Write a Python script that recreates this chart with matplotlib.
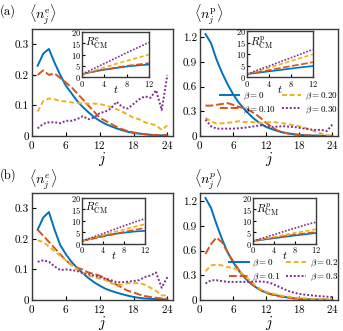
import numpy as np
import matplotlib
matplotlib.use("Agg")
import matplotlib.pyplot as plt

plt.rcParams["font.family"] = "cmr10"
plt.rcParams["mathtext.fontset"] = "cm"
plt.rcParams["axes.formatter.use_mathtext"] = True

# site index j and inset time t
j = np.arange(1, 25)
t = [0, 2, 4, 6, 8, 10, 12]
betas_a = ["0", "0.10", "0.20", "0.30"]
betas_b = ["0", "0.1", "0.2", "0.3"]

# (a) electrons
ae_b0 = [0.23, 0.27, 0.285, 0.24, 0.20, 0.165, 0.14, 0.115, 0.095, 0.078, 0.062, 0.05,
         0.04, 0.032, 0.025, 0.019, 0.014, 0.010, 0.008, 0.006, 0.004, 0.003, 0.002, 0.002]
ae_b1 = [0.20, 0.215, 0.20, 0.205, 0.19, 0.175, 0.16, 0.14, 0.12, 0.10, 0.08, 0.06,
         0.05, 0.04, 0.03, 0.022, 0.016, 0.012, 0.008, 0.006, 0.004, 0.003, 0.002, 0.004]
ae_b2 = [0.08, 0.115, 0.123, 0.12, 0.115, 0.113, 0.11, 0.108, 0.107, 0.106, 0.106, 0.105,
         0.10, 0.095, 0.088, 0.08, 0.07, 0.06, 0.055, 0.045, 0.04, 0.035, 0.02, 0.035]
ae_b3 = [0.025, 0.04, 0.045, 0.045, 0.042, 0.05, 0.05, 0.055, 0.065, 0.055, 0.06, 0.075,
         0.08, 0.09, 0.112, 0.095, 0.09, 0.105, 0.12, 0.13, 0.125, 0.15, 0.085, 0.20]
# (a) protons
ap_b0 = [1.24, 1.13, 0.93, 0.77, 0.63, 0.51, 0.41, 0.33, 0.26, 0.20, 0.15, 0.11,
         0.085, 0.062, 0.045, 0.032, 0.022, 0.015, 0.010, 0.007, 0.005, 0.003, 0.002, 0.001]
ap_b1 = [0.37, 0.37, 0.38, 0.39, 0.40, 0.38, 0.355, 0.34, 0.31, 0.27, 0.22, 0.16,
         0.11, 0.07, 0.045, 0.03, 0.02, 0.013, 0.009, 0.006, 0.004, 0.003, 0.002, 0.002]
ap_b2 = [0.22, 0.18, 0.15, 0.155, 0.16, 0.17, 0.18, 0.17, 0.175, 0.165, 0.155, 0.165,
         0.17, 0.165, 0.155, 0.145, 0.13, 0.12, 0.10, 0.08, 0.05, 0.03, 0.01, 0.005]
ap_b3 = [0.20, 0.12, 0.09, 0.09, 0.09, 0.09, 0.095, 0.10, 0.11, 0.12, 0.13, 0.12,
         0.11, 0.115, 0.12, 0.115, 0.11, 0.10, 0.09, 0.08, 0.075, 0.075, 0.06, 0.14]
# (b) electrons
be_b0 = [0.23, 0.27, 0.288, 0.23, 0.18, 0.15, 0.125, 0.105, 0.088, 0.072, 0.058, 0.047,
         0.037, 0.03, 0.024, 0.019, 0.014, 0.010, 0.007, 0.005, 0.004, 0.003, 0.002, 0.002]
be_b1 = [0.23, 0.21, 0.19, 0.17, 0.15, 0.13, 0.115, 0.105, 0.10, 0.09, 0.085, 0.08,
         0.07, 0.06, 0.05, 0.04, 0.03, 0.025, 0.018, 0.013, 0.01, 0.007, 0.005, 0.004]
be_b2 = [0.195, 0.19, 0.175, 0.16, 0.145, 0.13, 0.115, 0.10, 0.09, 0.08, 0.075, 0.07,
         0.065, 0.055, 0.05, 0.05, 0.055, 0.055, 0.055, 0.05, 0.04, 0.03, 0.015, 0.015]
be_b3 = [0.125, 0.13, 0.125, 0.11, 0.098, 0.10, 0.098, 0.095, 0.088, 0.085, 0.08, 0.075,
         0.07, 0.065, 0.058, 0.058, 0.06, 0.062, 0.065, 0.075, 0.08, 0.09, 0.04, 0.075]
# (b) protons
bp_b0 = [1.24, 1.12, 0.92, 0.74, 0.58, 0.46, 0.36, 0.28, 0.21, 0.16, 0.12, 0.09,
         0.07, 0.055, 0.04, 0.03, 0.02, 0.015, 0.010, 0.007, 0.005, 0.003, 0.002, 0.001]
bp_b1 = [0.56, 0.68, 0.76, 0.70, 0.58, 0.47, 0.37, 0.29, 0.22, 0.16, 0.12, 0.085,
         0.065, 0.05, 0.038, 0.028, 0.02, 0.015, 0.010, 0.007, 0.005, 0.004, 0.003, 0.002]
bp_b2 = [0.35, 0.42, 0.43, 0.42, 0.40, 0.39, 0.36, 0.30, 0.24, 0.18, 0.13, 0.10,
         0.08, 0.065, 0.05, 0.04, 0.03, 0.025, 0.02, 0.015, 0.01, 0.008, 0.006, 0.004]
bp_b3 = [0.20, 0.24, 0.24, 0.23, 0.22, 0.22, 0.22, 0.22, 0.22, 0.225, 0.225, 0.22,
         0.20, 0.17, 0.14, 0.11, 0.09, 0.075, 0.065, 0.058, 0.05, 0.045, 0.04, 0.035]

# insets: R_CM(t)
r_ae = [[1.3, 2.4, 3.3, 4.0, 4.7, 5.2, 5.6], [1.3, 2.4, 3.4, 4.2, 5.0, 5.6, 6.2],
        [1.3, 2.8, 4.3, 5.8, 7.2, 8.6, 10.0], [1.3, 3.7, 6.0, 8.4, 10.8, 13.1, 15.4]]
r_ap = [[1.3, 1.9, 2.5, 3.1, 3.7, 4.3, 4.8], [1.3, 2.2, 3.0, 3.9, 4.8, 5.6, 6.5],
        [1.3, 2.7, 4.1, 5.5, 7.0, 8.5, 9.9], [1.3, 3.1, 4.8, 6.6, 8.4, 10.2, 12.0]]
r_be = [[1.3, 2.5, 3.5, 4.3, 4.9, 5.4, 5.7], [1.3, 2.2, 3.2, 4.2, 5.2, 6.1, 7.0],
        [1.3, 2.6, 3.8, 5.1, 6.3, 7.5, 8.6], [1.3, 2.9, 4.5, 6.2, 7.9, 9.5, 11.0]]
r_bp = [[1.3, 1.9, 2.5, 3.1, 3.7, 4.2, 4.8], [1.3, 2.0, 2.7, 3.4, 4.1, 4.6, 5.2],
        [1.3, 2.2, 3.1, 4.0, 4.8, 5.6, 6.4], [1.3, 2.7, 4.1, 5.5, 6.9, 8.3, 9.5]]

colors = ["#0072BD", "#D95319", "#EDB120", "#7E2F8E"]
styles = ["-", (0, (4, 1.5)), (0, (2.5, 1.5)), (0, (1, 1))]
frame_c = "#3a3a3a"


def style_axes(ax, fs):
    for s in ax.spines.values():
        s.set_color(frame_c)
        s.set_linewidth(1.0)
    ax.tick_params(direction="in", length=3, width=0.8, labelsize=fs, pad=2, colors="k")


def main_panel(rect, series, ylim, yticks, ylab):
    ax = fig.add_axes(rect)
    lines = []
    for k, y in enumerate(series):
        ln, = ax.plot(j, y, color=colors[k], ls=styles[k], lw=1.4)
        lines.append(ln)
    ax.set_xlim(0, 25)
    ax.set_ylim(*ylim)
    ax.set_xticks([0, 6, 12, 18, 24])
    ax.set_yticks(yticks)
    ax.set_yticklabels(ylab)
    style_axes(ax, 8)
    ax.set_xlabel(r"$j$", fontsize=10.5, labelpad=-0.5)
    return ax, lines


def inset(rect, series, lab):
    ax = fig.add_axes(rect)
    for k, y in enumerate(series):
        ax.plot(t, y, color=colors[k], ls=styles[k], lw=1.2)
    ax.set_xlim(0, 12)
    ax.set_ylim(0, 20)
    ax.set_xticks([0, 4, 8, 12])
    ax.set_yticks([0, 5, 10, 15, 20])
    style_axes(ax, 6)
    ax.tick_params(length=2, pad=1)
    ax.set_xlabel(r"$t$", fontsize=8, labelpad=-3.5)
    ax.text(0.05, 0.93, lab, transform=ax.transAxes, fontsize=8, va="top", ha="left")
    return ax


fig = plt.figure(figsize=(3.43, 3.31), dpi=100)

e_ticks = [0, 0.1, 0.2, 0.3]
e_lab = ["0", "0.1", "0.2", "0.3"]
p_ticks = [0, 0.3, 0.6, 0.9, 1.2]
p_lab = ["0", "0.3", "0.6", "0.9", "1.2"]

main_panel([0.0933, 0.589, 0.411, 0.323], [ae_b0, ae_b1, ae_b2, ae_b3], (0, 0.35), e_ticks, e_lab)
ax_tr, lines = main_panel([0.583, 0.589, 0.402, 0.323], [ap_b0, ap_b1, ap_b2, ap_b3], (0, 1.3), p_ticks, p_lab)
main_panel([0.0933, 0.0937, 0.411, 0.323], [be_b0, be_b1, be_b2, be_b3], (0, 0.35), e_ticks, e_lab)
ax_br, lines_b = main_panel([0.583, 0.0937, 0.402, 0.323], [bp_b0, bp_b1, bp_b2, bp_b3], (0, 1.3), p_ticks, p_lab)

ax_tr.legend(lines, [r"$\beta=%s$" % b for b in betas_a], ncol=2, frameon=False,
             fontsize=6.5, loc="lower right", bbox_to_anchor=(1.04, 0.14),
             handlelength=2.2, handletextpad=0.4, columnspacing=0.6, labelspacing=0.25,
             borderpad=0.1)
ax_br.legend(lines_b, [r"$\beta=%s$" % b for b in betas_b], ncol=2, frameon=False,
             fontsize=6.5, loc="lower right", bbox_to_anchor=(1.04, 0.11),
             handlelength=2.2, handletextpad=0.4, columnspacing=0.6, labelspacing=0.25,
             borderpad=0.1)

inset([0.239, 0.767, 0.195, 0.136], r_ae, r"$R^{\rm e}_{\rm CM}$")
inset([0.720, 0.767, 0.192, 0.139], r_ap, r"$R^{\rm p}_{\rm CM}$")
inset([0.239, 0.263, 0.184, 0.139], r_be, r"$R^{e}_{\rm CM}$")
inset([0.738, 0.263, 0.184, 0.139], r_bp, r"$R^{p}_{\rm CM}$")

fig.text(0.0, 0.965, "(a)", fontsize=9, va="center", ha="left")
fig.text(0.0, 0.47, "(b)", fontsize=9, va="center", ha="left")
fig.text(0.085, 0.955, r"$\langle n^{\rm e}_j\rangle$", fontsize=10, va="center", ha="left")
fig.text(0.565, 0.955, r"$\langle n^{\rm p}_j\rangle$", fontsize=10, va="center", ha="left")
fig.text(0.085, 0.455, r"$\langle n^{e}_j\rangle$", fontsize=10, va="center", ha="left")
fig.text(0.565, 0.455, r"$\langle n^{p}_j\rangle$", fontsize=10, va="center", ha="left")

fig.savefig("out.png", dpi=100)
